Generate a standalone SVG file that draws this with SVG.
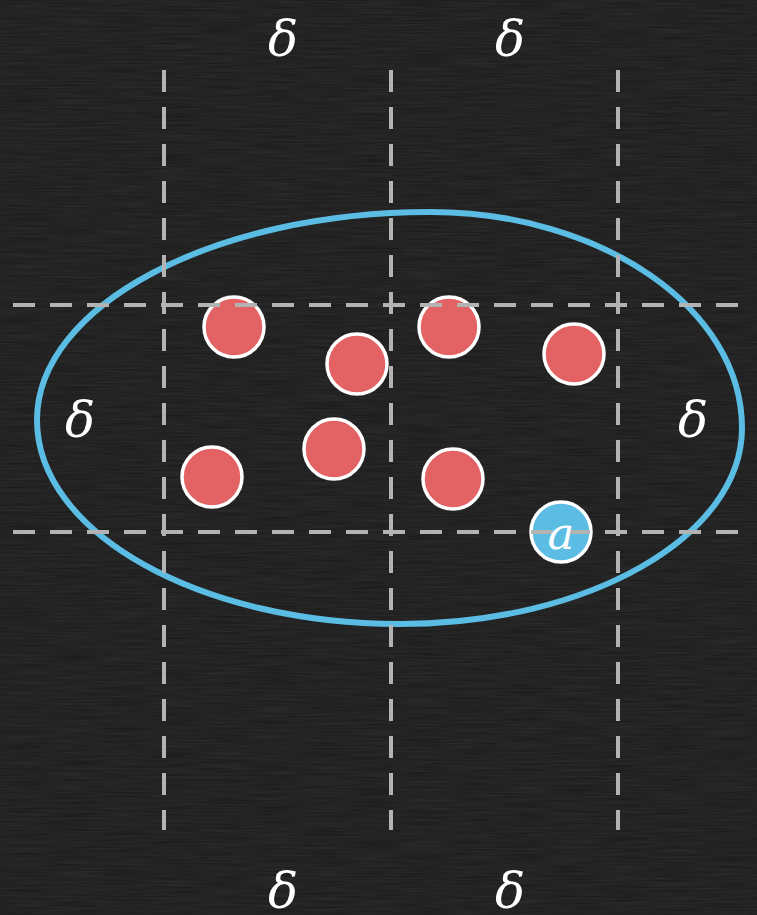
<svg xmlns="http://www.w3.org/2000/svg" width="757" height="915" viewBox="0 0 757 915">
  <defs>
    <filter id="chalk" x="0" y="0" width="100%" height="100%">
      <feTurbulence type="fractalNoise" baseFrequency="0.02 0.6" numOctaves="3" seed="4" result="n"/>
      <feColorMatrix in="n" type="matrix" values="0 0 0 0 1  0 0 0 0 1  0 0 0 0 1  0 0 0 0.09 0"/>
    </filter>
    <style>
      .grid { stroke: #b3b3b3; stroke-width: 4; stroke-dasharray: 22 15; fill: none; }
      .pt { fill: #e36264; stroke: #ffffff; stroke-width: 3.5; }
      .blue { fill: #5bbde4; stroke: #ffffff; stroke-width: 3.5; }
      .lbl { font-family: "DejaVu Serif", "Liberation Serif", serif; font-style: italic; font-size: 50px; fill: #ffffff; text-anchor: middle; }
    </style>
  </defs>
  <rect width="757" height="915" fill="#191919"/>
  <rect width="757" height="915" filter="url(#chalk)"/>

  <g id="region">
    <path d="M 37 420 C 37 306, 213 212, 430 212 C 602 212, 742 309, 742 428 C 742 536, 589 624, 400 624 C 200 624, 37 533, 37 420 Z" fill="none" stroke="#5bbde4" stroke-width="6"/>
  </g>

  <g id="points">
    <g id="p1"><circle class="pt" cx="234" cy="327" r="30"/></g>
    <g id="p2"><circle class="pt" cx="357" cy="364" r="30"/></g>
    <g id="p3"><circle class="pt" cx="449" cy="327" r="30"/></g>
    <g id="p4"><circle class="pt" cx="574" cy="354" r="30"/></g>
    <g id="p5"><circle class="pt" cx="212" cy="477" r="30"/></g>
    <g id="p6"><circle class="pt" cx="334" cy="449" r="30"/></g>
    <g id="p7"><circle class="pt" cx="453" cy="479" r="30"/></g>
    <g id="a"><circle class="blue" cx="561" cy="532" r="30"/></g>
  </g>

  <g id="connectors">
    <line class="grid" x1="164" y1="70" x2="164" y2="830"/>
    <line class="grid" x1="391" y1="70" x2="391" y2="830"/>
    <line class="grid" x1="618" y1="70" x2="618" y2="830"/>
    <line class="grid" x1="13" y1="305" x2="745" y2="305"/>
    <line class="grid" x1="13" y1="532" x2="745" y2="532"/>
  </g>

  <g id="labels">
    <text class="lbl" x="561" y="549" style="font-size:45px">a</text>
    <text class="lbl" x="283" y="56">δ</text>
    <text class="lbl" x="510" y="56">δ</text>
    <text class="lbl" x="80" y="437">δ</text>
    <text class="lbl" x="693" y="437">δ</text>
    <text class="lbl" x="283" y="908">δ</text>
    <text class="lbl" x="510" y="908">δ</text>
  </g>
</svg>
